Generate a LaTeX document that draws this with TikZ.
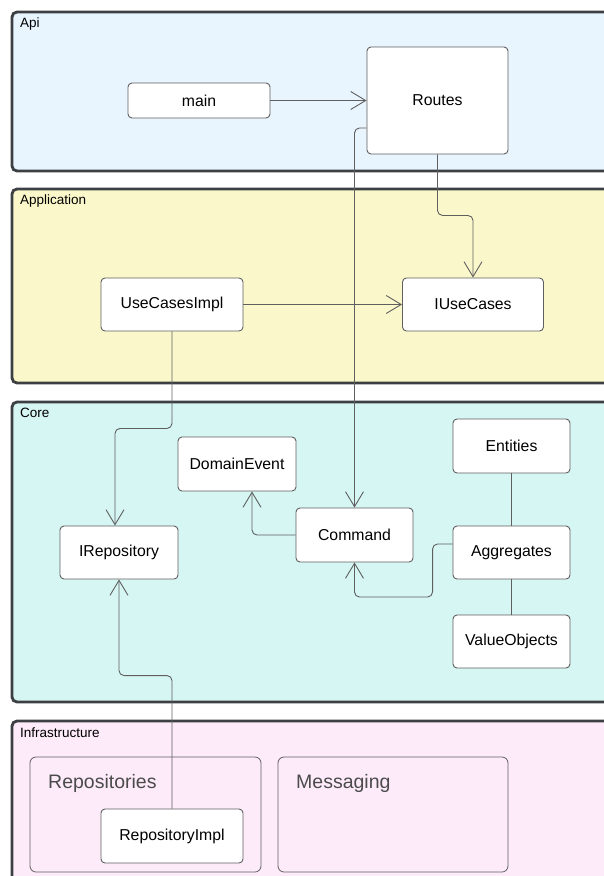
\documentclass[tikz,border=0pt]{standalone}
\usepackage{fontspec}
\setmainfont{Liberation Sans}
\usetikzlibrary{arrows.meta}

\definecolor{apifill}{RGB}{232,244,254}
\definecolor{appfill}{RGB}{250,248,202}
\definecolor{corefill}{RGB}{213,246,242}
\definecolor{infrafill}{RGB}{253,235,250}
\definecolor{layerline}{RGB}{60,64,67}
\definecolor{boxline}{RGB}{95,95,95}
\definecolor{pkgtext}{RGB}{75,75,75}

\begin{document}
\begin{tikzpicture}[x=1pt,y=-1pt,
  layer/.style={draw=layerline,line width=2.8pt,rounded corners=5pt},
  layertext/.style={anchor=west,inner sep=0pt,font=\fontsize{13.5}{16}\selectfont},
  box/.style={draw=boxline,fill=white,line width=0.9pt,rounded corners=4pt,inner sep=0pt,
    font=\fontsize{15.8}{18}\selectfont},
  pkg/.style={draw=boxline,line width=0.8pt,rounded corners=6pt},
  pkgtext/.style={anchor=west,inner sep=0pt,text=pkgtext,font=\fontsize{19.5}{22}\selectfont},
  dep/.style={draw=boxline,line width=0.9pt,rounded corners=5pt,
    -{Straight Barb[length=15pt,width=18pt]}},
  link/.style={draw=boxline,line width=0.9pt}]

\clip (0,0) rectangle (604,876);

% layers
\draw[layer,fill=apifill] (12,12) rectangle (640,171);
\draw[layer,fill=appfill] (12,189) rectangle (640,383);
\draw[layer,fill=corefill] (12,402) rectangle (640,702);
\draw[layer,fill=infrafill] (12,721) rectangle (640,900);

\node[layertext] (apilbl) at (20,24) {Api};
\node[layertext] (applbl) at (20,201) {Application};
\node[layertext] (corelbl) at (20,413) {Core};
\node[layertext] (infralbl) at (20,733) {Infrastructure};

% infrastructure packages
\draw[pkg] (30,757) rectangle (261,872);
\draw[pkg] (278,757) rectangle (508,872);
\node[pkgtext] (repos) at (48,783) {Repositories};
\node[pkgtext] (msg) at (296,783) {Messaging};

% classes
\node[box,minimum width=142pt,minimum height=35pt] (main) at (199,100.5) {main};
\node[box,minimum width=141pt,minimum height=107pt] (routes) at (437.5,100.5) {Routes};

\node[box,minimum width=142pt,minimum height=53pt] (usecasesimpl) at (172,304.5) {UseCasesImpl};
\node[box,minimum width=141pt,minimum height=53pt] (iusecases) at (473,304.5) {IUseCases};

\node[box,minimum width=118pt,minimum height=54pt] (domainevent) at (237,464) {DomainEvent};
\node[box,minimum width=117pt,minimum height=54pt] (entities) at (511.5,446) {Entities};
\node[box,minimum width=118pt,minimum height=53pt] (irepository) at (119,552.5) {IRepository};
\node[box,minimum width=117pt,minimum height=54pt] (command) at (354.5,535) {Command};
\node[box,minimum width=117pt,minimum height=53pt] (aggregates) at (511.5,552.5) {Aggregates};
\node[box,minimum width=117pt,minimum height=53pt] (valueobjects) at (511.5,641.5) {ValueObjects};

\node[box,minimum width=142pt,minimum height=54pt] (repositoryimpl) at (172,836) {RepositoryImpl};

% dependencies
\draw[dep] (main) -- (routes);
\draw[dep] ([yshift=-27.5pt]routes.west) -| (command);
\draw[dep] (routes.south) -- ++(0,61) -| (iusecases);
\draw[dep] (usecasesimpl) -- (iusecases);
\draw[dep] (usecasesimpl.south) -- ++(0,97) -| ([xshift=-4pt]irepository.north);
\draw[dep] (command.west) -| ([xshift=15pt]domainevent.south);
\draw[dep] ([yshift=8.5pt]aggregates.west) -| ++(-20,53) -| (command);
\draw[dep] (repositoryimpl.north) -- ++(0,-133) -| (irepository);
\draw[link] (entities) -- (aggregates);
\draw[link] (aggregates) -- (valueobjects);

\end{tikzpicture}
\end{document}
